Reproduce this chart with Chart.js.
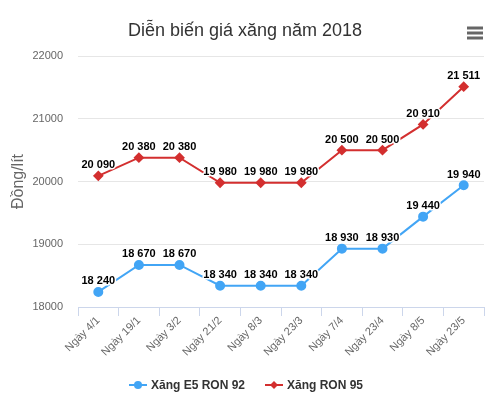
<!DOCTYPE html>
<html lang="vi">
<head>
    <meta charset="UTF-8">
    <title>Diễn biến giá xăng năm 2018</title>
    <script src="https://cdn.jsdelivr.net/npm/chart.js"></script>
    <style>
        html, body { margin: 0; padding: 0; background: #fff; }
        #wrap { width: 490px; height: 397px; position: relative; }
    </style>
</head>
<body>
<div id="wrap"><canvas id="priceChart" width="490" height="397"></canvas></div>
<script>
// data
const dates = ['Ngày 4/1', 'Ngày 19/1', 'Ngày 3/2', 'Ngày 21/2', 'Ngày 8/3', 'Ngày 23/3', 'Ngày 7/4', 'Ngày 23/4', 'Ngày 8/5', 'Ngày 23/5'];
const e5Ron92 = [18240, 18670, 18670, 18340, 18340, 18340, 18930, 18930, 19440, 19940];
const ron95 = [20090, 20380, 20380, 19980, 19980, 19980, 20500, 20500, 20910, 21511];
const seriesNames = ['Xăng E5 RON 92', 'Xăng RON 95'];
const seriesColors = ['#42a5f5', '#d32f2f'];

const FONT = '"Liberation Sans", Arial, sans-serif';

function fmt(v) {
    return String(v).replace(/\B(?=(\d{3})+(?!\d))/g, ' ');
}

// title, menu icon, value labels and legend
const decorations = {
    id: 'decorations',
    afterDatasetsDraw(chart) {
        const ctx = chart.ctx;
        ctx.save();
        // value labels
        ctx.font = 'bold 11px ' + FONT;
        ctx.textAlign = 'center';
        ctx.textBaseline = 'bottom';
        ctx.lineJoin = 'round';
        chart.data.datasets.forEach((ds, i) => {
            chart.getDatasetMeta(i).data.forEach((pt, j) => {
                const txt = fmt(ds.data[j]);
                ctx.strokeStyle = '#fff';
                ctx.lineWidth = 3;
                ctx.strokeText(txt, pt.x, pt.y - 5);
                ctx.fillStyle = '#000';
                ctx.fillText(txt, pt.x, pt.y - 5);
            });
        });
        ctx.restore();
    },
    afterDraw(chart) {
        const ctx = chart.ctx;
        ctx.save();
        // title
        ctx.fillStyle = '#333';
        ctx.font = '18px ' + FONT;
        ctx.textAlign = 'center';
        ctx.textBaseline = 'middle';
        ctx.fillText('Diễn biến giá xăng năm 2018', 245, 31);
        // menu icon
        ctx.strokeStyle = '#666';
        ctx.lineWidth = 3;
        [28, 33, 38].forEach(y => {
            ctx.beginPath();
            ctx.moveTo(467, y);
            ctx.lineTo(483, y);
            ctx.stroke();
        });
        // legend
        const items = [{x: 129, text: seriesNames[0], shape: 'circle'}, {x: 265, text: seriesNames[1], shape: 'diamond'}];
        ctx.font = 'bold 12px ' + FONT;
        ctx.textAlign = 'left';
        const ly = 385;
        items.forEach((it, i) => {
            ctx.strokeStyle = seriesColors[i];
            ctx.fillStyle = seriesColors[i];
            ctx.lineWidth = 2;
            ctx.beginPath();
            ctx.moveTo(it.x, ly);
            ctx.lineTo(it.x + 18, ly);
            ctx.stroke();
            ctx.beginPath();
            if (it.shape === 'circle') {
                ctx.arc(it.x + 9, ly, 4, 0, Math.PI * 2);
            } else {
                ctx.moveTo(it.x + 9, ly - 4);
                ctx.lineTo(it.x + 13, ly);
                ctx.lineTo(it.x + 9, ly + 4);
                ctx.lineTo(it.x + 5, ly);
                ctx.closePath();
            }
            ctx.fill();
            ctx.fillStyle = '#333';
            ctx.fillText(it.text, it.x + 22, ly + 1);
        });
        ctx.restore();
    }
};

new Chart(document.getElementById('priceChart'), {
    type: 'line',
    data: {
        labels: dates,
        datasets: [
            {
                label: seriesNames[0],
                data: e5Ron92,
                borderColor: seriesColors[0],
                backgroundColor: seriesColors[0],
                borderWidth: 2,
                pointStyle: 'circle',
                pointRadius: 4,
                pointHoverRadius: 4,
                tension: 0
            },
            {
                label: seriesNames[1],
                data: ron95,
                borderColor: seriesColors[1],
                backgroundColor: seriesColors[1],
                borderWidth: 2,
                pointStyle: 'rectRot',
                pointRadius: 4,
                pointHoverRadius: 4,
                tension: 0
            }
        ]
    },
    options: {
        responsive: false,
        animation: false,
        layout: { padding: { top: 56, left: 0, right: 4, bottom: 0 } },
        plugins: {
            legend: { display: false },
            title: { display: false },
            tooltip: { enabled: false }
        },
        scales: {
            x: {
                offset: true,
                grid: { offset: true, drawOnChartArea: false, tickLength: 9, color: '#ccd6eb' },
                border: { color: '#ccd6eb' },
                ticks: {
                    maxRotation: 45,
                    minRotation: 45,
                    color: '#666',
                    font: { family: FONT, size: 11 },
                    padding: -2
                },
                afterFit(scale) { scale.height = 90; }
            },
            y: {
                min: 18000,
                max: 22000,
                ticks: {
                    stepSize: 1000,
                    color: '#666',
                    padding: 15,
                    font: { family: FONT, size: 11 },
                    callback: v => String(v)
                },
                grid: { color: '#e6e6e6', drawTicks: false },
                border: { display: false },
                title: {
                    display: true,
                    text: 'Đồng/lít',
                    color: '#666',
                    font: { family: FONT, size: 16 },
                    padding: { top: 9 }
                },
                afterFit(scale) { scale.width = 78; }
            }
        }
    },
    plugins: [decorations]
});
</script>
</body>
</html>
